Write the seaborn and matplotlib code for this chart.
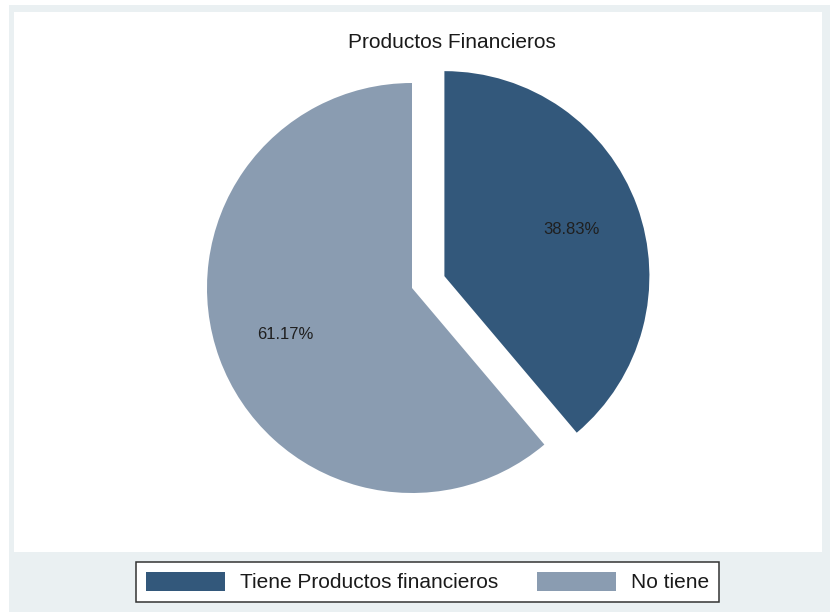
import matplotlib
matplotlib.use("Agg")
import matplotlib.pyplot as plt
import seaborn as sns
from matplotlib.patches import Rectangle

# Data
title = "Productos Financieros"
categories = ["Tiene Productos financieros", "No tiene"]
shares = [38.83, 61.17]
colors = ["#33587b", "#8a9cb1"]

sns.set_theme(style="white")
plt.rcParams["font.family"] = ["Liberation Sans", "DejaVu Sans"]

W, H = 835, 612
fig = plt.figure(figsize=(W / 100, H / 100), dpi=100)
fig.patch.set_facecolor("white")
ax = fig.add_axes([0, 0, 1, 1])

# Graph region (light tint) and plot region (white), in pixel units
ax.add_patch(Rectangle((9, 0), 821, 607, facecolor="#eaf0f2", edgecolor="none", zorder=0))
ax.add_patch(Rectangle((14, 60), 808, 540, facecolor="white", edgecolor="none", zorder=0))

wedges, texts, autotexts = ax.pie(
    shares,
    colors=colors,
    startangle=90,
    counterclock=False,
    explode=[34.5, 0],
    center=(412, 324),
    radius=205,
    autopct="%1.2f%%",
    pctdistance=0.66,
    wedgeprops=dict(linewidth=0),
    textprops=dict(fontsize=12, color="#1f1f1f"),
)

ax.set_xlim(0, W)
ax.set_ylim(0, H)
ax.set_aspect("auto")
ax.axis("off")

ax.text(452, 569, title, ha="center", va="center", fontsize=15, color="#1a1a1a")

leg = ax.legend(
    wedges, categories,
    loc="center", bbox_to_anchor=(427.5, 30), bbox_transform=ax.transData,
    ncol=2, fontsize=15, frameon=True, fancybox=False,
    edgecolor="#333333", framealpha=1, facecolor="white",
    handlelength=3.8, handleheight=1.06, handletextpad=0.72,
    columnspacing=1.87, borderpad=0.45, borderaxespad=0,
)
leg.get_frame().set_linewidth(1.1)
for t in leg.get_texts():
    t.set_color("#1a1a1a")

fig.savefig("out.png", dpi=100, facecolor="white")
